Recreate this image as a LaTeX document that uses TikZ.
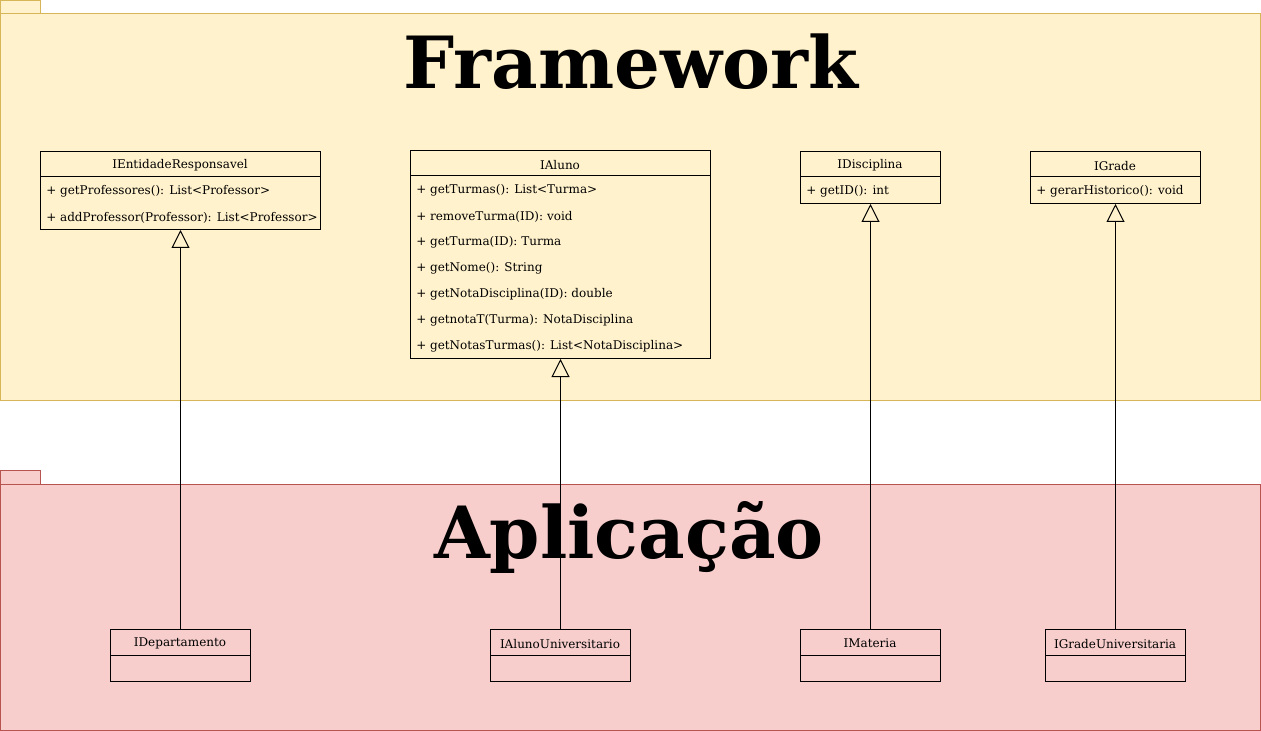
\documentclass[tikz,border=0pt]{standalone}
\usepackage{fontspec}
\setmainfont{DejaVu Serif}
\usetikzlibrary{arrows.meta}
\definecolor{fwfill}{HTML}{FFF2CC}
\definecolor{fwline}{HTML}{D6B656}
\definecolor{apfill}{HTML}{F8CECC}
\definecolor{apline}{HTML}{B85450}
\tikzset{
  classbox/.style={draw=black, line width=0.75pt, anchor=north west, inner sep=0pt},
  cname/.style={anchor=center, font=\fontsize{9}{11}\selectfont, inner sep=0pt, yshift=-1.2pt},
  member/.style={anchor=west, font=\fontsize{9}{11}\selectfont, inner sep=0pt, yshift=-1.2pt},
  sep/.style={draw=black, line width=0.75pt},
  gen/.style={draw=black, line width=0.75pt, -{Triangle[open, length=13.5pt, width=13.5pt]}},
  title/.style={anchor=base, font=\fontsize{54}{60}\selectfont\bfseries, inner sep=0pt}
}
\begin{document}
\begin{tikzpicture}[x=0.75pt, y=-0.75pt]
\useasboundingbox (0,0) rectangle (1261,731);
% packages
\draw[fill=fwfill, draw=fwline, line width=0.75pt] (0.5,0.5) rectangle (40,14);
\draw[fill=fwfill, draw=fwline, line width=0.75pt] (0.5,14) rectangle (1260.5,400);
\draw[fill=apfill, draw=apline, line width=0.75pt] (0.5,470) rectangle (40,484);
\draw[fill=apfill, draw=apline, line width=0.75pt] (0.5,484) rectangle (1260.5,730.5);
\node[title] (tfw) at (631,89) {Framework};
\node[title] (tap) at (629,558) {Aplicação};
% IEntidadeResponsavel
\node[classbox, minimum width=210pt, minimum height=58.5pt] (ent) at (40,151) {};
\draw[sep] (40,177) -- (320,177);
\node[cname] (entn) at (180,164) {IEntidadeResponsavel};
\node[member] (ent1) at (46,190) {+ getProfessores(): List<Professor>};
\node[member] (ent2) at (46,216) {+ addProfessor(Professor): List<Professor>};
% IAluno
\node[classbox, minimum width=225pt, minimum height=156pt] (alu) at (410,150) {};
\draw[sep] (410,176) -- (710,176);
\node[cname] (alun) at (560,163) {IAluno};
\node[member] (alu1) at (416,189) {+ getTurmas(): List<Turma>};
\node[member] (alu2) at (416,215) {+ removeTurma(ID): void};
\node[member] (alu3) at (416,241) {+ getTurma(ID): Turma};
\node[member] (alu4) at (416,267) {+ getNome(): String};
\node[member] (alu5) at (416,293) {+ getNotaDisciplina(ID): double};
\node[member] (alu6) at (416,319) {+ getnotaT(Turma): NotaDisciplina};
\node[member] (alu7) at (416,345) {+ getNotasTurmas(): List<NotaDisciplina>};
% IDisciplina
\node[classbox, minimum width=105pt, minimum height=39pt] (dis) at (800,151) {};
\draw[sep] (800,177) -- (940,177);
\node[cname] (disn) at (870,164) {IDisciplina};
\node[member] (dis1) at (806,190) {+ getID(): int};
% IGrade
\node[classbox, minimum width=127.5pt, minimum height=39pt] (gra) at (1030,151) {};
\draw[sep] (1030,177) -- (1200,177);
\node[cname] (gran) at (1115,164) {IGrade};
\node[member] (gra1) at (1036,190) {+ gerarHistorico(): void};
% Application classes
\node[classbox, minimum width=105pt, minimum height=39pt] (dep) at (110,629) {};
\draw[sep] (110,655) -- (250,655);
\node[cname] (depn) at (180,642) {IDepartamento};
\node[classbox, minimum width=105pt, minimum height=39pt] (auni) at (490,629) {};
\draw[sep] (490,655) -- (630,655);
\node[cname] (aunin) at (560,642) {IAlunoUniversitario};
\node[classbox, minimum width=105pt, minimum height=39pt] (mat) at (800,629) {};
\draw[sep] (800,655) -- (940,655);
\node[cname] (matn) at (870,642) {IMateria};
\node[classbox, minimum width=105pt, minimum height=39pt] (guni) at (1045,629) {};
\draw[sep] (1045,655) -- (1185,655);
\node[cname] (gunin) at (1115,642) {IGradeUniversitaria};
% generalizations
\draw[gen] (dep.north) -- (ent.south);
\draw[gen] (auni.north) -- (alu.south);
\draw[gen] (mat.north) -- (dis.south);
\draw[gen] (guni.north) -- (gra.south);
\end{tikzpicture}
\end{document}
